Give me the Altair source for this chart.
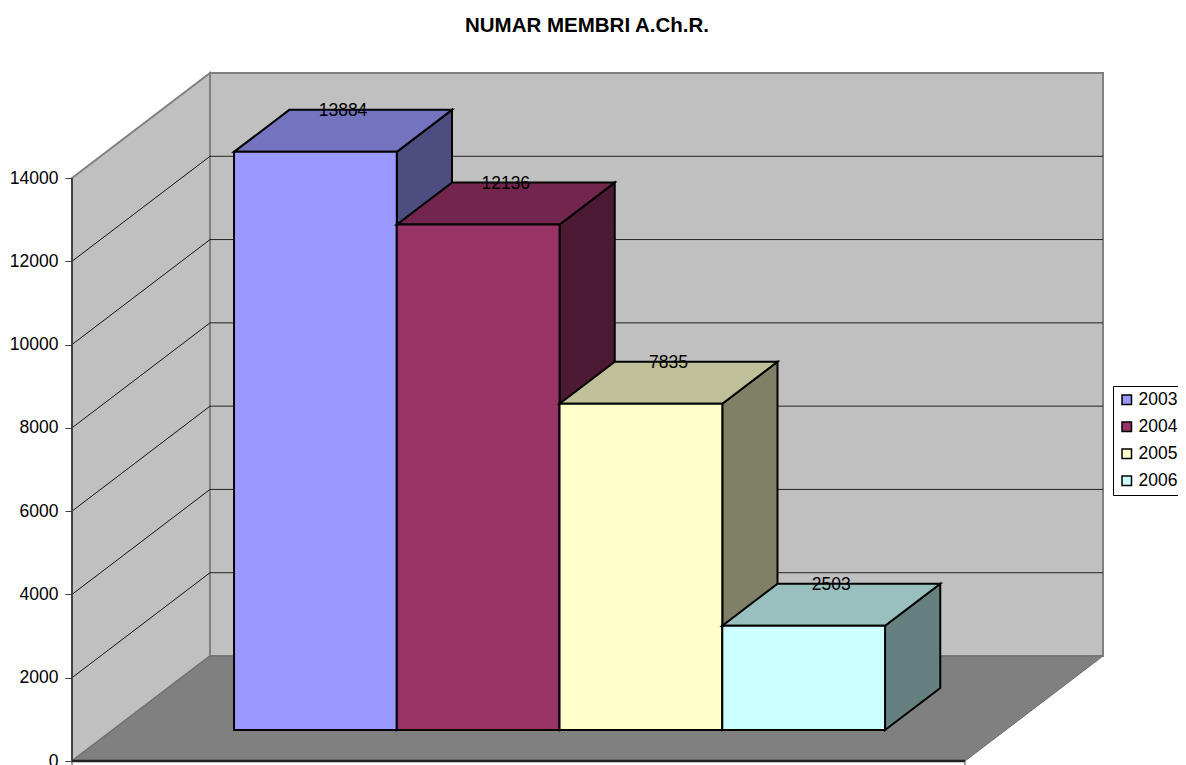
import altair as alt
import pandas as pd

# --- chart values ---
years = ["2003", "2004", "2005", "2006"]
members = [13884, 12136, 7835, 2503]
front_colors = ["#9999FF", "#993366", "#FFFFCC", "#CCFFFF"]
top_colors = ["#7373BF", "#73264D", "#BFBF99", "#99BFBF"]
side_colors = ["#4D4D80", "#4D1A33", "#808066", "#668080"]
y_ticks = [0, 2000, 4000, 6000, 8000, 10000, 12000, 14000]

# --- oblique projection of the 3D box (depth d: 0 = front, 1 = back) ---
FONT = "Liberation Sans"
TEXT_SIZE = 17.5
PX_PER_UNIT = 583 / 14000
PLOT_W, PLOT_H = 1106, 693
FLOOR_W = 893
DEPTH_X = 138
DEPTH_Y = 105 / PX_PER_UNIT
WALL_TOP = 14000
BAR_START, BAR_W = 121.3, 162.75
BAR_D0, BAR_D1 = 31 / 105, 31 / 105 + 0.4

xs = alt.Scale(domain=[0, PLOT_W], range=[0, PLOT_W], nice=False, zero=False)
ys = alt.Scale(domain=[0, PLOT_H / PX_PER_UNIT], range=[PLOT_H, 0], nice=False, zero=False)


def px(u, d=0.0):
    return u + d * DEPTH_X


def py(v, d=0.0):
    return v + d * DEPTH_Y


value_axis = alt.Axis(
    values=y_ticks,
    title=None,
    grid=False,
    domain=False,
    labelFont=FONT,
    labelFontSize=TEXT_SIZE,
    labelColor="black",
    labelPadding=7,
    tickColor="#404040",
    tickSize=7,
    tickWidth=1,
    format="d",
)
X = alt.X("x:Q", scale=xs, axis=None)
Y = alt.Y("y:Q", scale=ys, axis=value_axis)


def vface(points, **style):
    """Face with vertical left/right edges: rows of x, y, y2."""
    df = pd.DataFrame(points, columns=["x", "y", "y2"])
    return alt.Chart(df).mark_area(opacity=1, **style).encode(X, Y, y2="y2:Q")


def hface(points, **style):
    """Face with horizontal front/back edges: rows of y, x, x2."""
    df = pd.DataFrame(points, columns=["y", "x", "x2"])
    return alt.Chart(df).mark_area(opacity=1, orient="horizontal", **style).encode(
        X, alt.X2("x2:Q"), Y
    )


def segs(rows, color, width):
    df = pd.DataFrame(rows, columns=["x", "y", "x2", "y2"])
    return alt.Chart(df).mark_rule(color=color, strokeWidth=width).encode(
        X, alt.X2("x2:Q"), Y, alt.Y2("y2:Q")
    )


layers = []

# back wall, left wall, floor
back = pd.DataFrame(
    [{"x": px(0, 1), "x2": px(FLOOR_W, 1), "y": py(0, 1), "y2": py(WALL_TOP, 1)}]
)
layers.append(
    alt.Chart(back)
    .mark_rect(fill="#C0C0C0", stroke="#808080", strokeWidth=2)
    .encode(X, alt.X2("x2:Q"), Y, alt.Y2("y2:Q"))
)
layers.append(
    vface(
        [[px(0, 0), py(WALL_TOP, 0), py(0, 0)], [px(0, 1), py(WALL_TOP, 1), py(0, 1)]],
        fill="#C0C0C0",
        stroke="#808080",
        strokeWidth=2,
    )
)
layers.append(
    hface(
        [[py(0, 0), px(0, 0), px(FLOOR_W, 0)], [py(0, 1), px(0, 1), px(FLOOR_W, 1)]],
        fill="#808080",
        stroke="#6a6a6a",
        strokeWidth=1,
    )
)

# gridlines on the walls
grid_vals = [t for t in y_ticks if 0 < t < WALL_TOP]
layers.append(
    segs([[px(0, 0), py(t, 0), px(0, 1), py(t, 1)] for t in grid_vals], "#111111", 1)
)
layers.append(
    segs([[px(0, 1), py(t, 1), px(FLOOR_W, 1), py(t, 1)] for t in grid_vals], "#222222", 1)
)

# axis lines
layers.append(segs([[0, 0, 0, WALL_TOP]], "#404040", 2))
layers.append(segs([[0, 0, FLOOR_W, 0]], "#222222", 2.5))
bottom_ticks = pd.DataFrame({"x": [0, FLOOR_W]})
layers.append(
    alt.Chart(bottom_ticks)
    .mark_rule(color="#404040", strokeWidth=1)
    .encode(X, y=alt.value(PLOT_H), y2=alt.value(PLOT_H + 5))
)

# bars: drawn left to right so each front covers the previous side face
fill_scale = alt.Scale(domain=years, range=front_colors)
legend = alt.Legend(
    title=None,
    orient="none",
    legendX=1041,
    legendY=318,
    strokeColor="black",
    padding=5,
    symbolType="square",
    symbolSize=90,
    symbolStrokeColor="black",
    symbolStrokeWidth=1.5,
    labelFont=FONT,
    labelFontSize=TEXT_SIZE,
    labelColor="black",
    rowPadding=8,
    labelOffset=3,
)
for i, (year, value) in enumerate(zip(years, members)):
    u0 = BAR_START + i * BAR_W
    u1 = u0 + BAR_W
    edge = dict(stroke="black", strokeWidth=2)
    layers.append(
        vface(
            [
                [px(u1, BAR_D0), py(value, BAR_D0), py(0, BAR_D0)],
                [px(u1, BAR_D1), py(value, BAR_D1), py(0, BAR_D1)],
            ],
            fill=side_colors[i],
            **edge,
        )
    )
    layers.append(
        hface(
            [
                [py(value, BAR_D0), px(u0, BAR_D0), px(u1, BAR_D0)],
                [py(value, BAR_D1), px(u0, BAR_D1), px(u1, BAR_D1)],
            ],
            fill=top_colors[i],
            **edge,
        )
    )
    front = pd.DataFrame(
        [
            {
                "year": year,
                "x": px(u0, BAR_D0),
                "x2": px(u1, BAR_D0),
                "y": py(0, BAR_D0),
                "y2": py(value, BAR_D0),
            }
        ]
    )
    layers.append(
        alt.Chart(front)
        .mark_rect(**edge)
        .encode(
            X,
            alt.X2("x2:Q"),
            Y,
            alt.Y2("y2:Q"),
            fill=alt.Fill("year:N", scale=fill_scale, legend=legend),
        )
    )

# value labels on the back edge of each top face
labels = pd.DataFrame(
    {
        "x": [
            px(BAR_START + (i + 0.5) * BAR_W, (BAR_D0 + BAR_D1) / 2)
            for i in range(len(members))
        ],
        "y": [py(v, BAR_D1) for v in members],
        "value": members,
    }
)
layers.append(
    alt.Chart(labels)
    .mark_text(font=FONT, fontSize=TEXT_SIZE, color="black", baseline="middle", dy=1)
    .encode(X, Y, text=alt.Text("value:Q", format="d"))
)

chart = (
    alt.layer(*layers)
    .properties(
        width=PLOT_W,
        height=PLOT_H,
        padding={"left": 64, "top": 60, "right": 0, "bottom": 4},
        autosize=alt.AutoSizeParams(type="none"),
        title=alt.TitleParams(
            "NUMAR MEMBRI A.Ch.R.",
            font=FONT,
            fontSize=20.5,
            fontWeight="bold",
            color="black",
            anchor="middle",
            frame="group",
            dx=-38,
            offset=32,
        ),
    )
    .configure_view(stroke=None)
)

chart.save("out.html", embed_options={"renderer": "svg", "actions": False})
